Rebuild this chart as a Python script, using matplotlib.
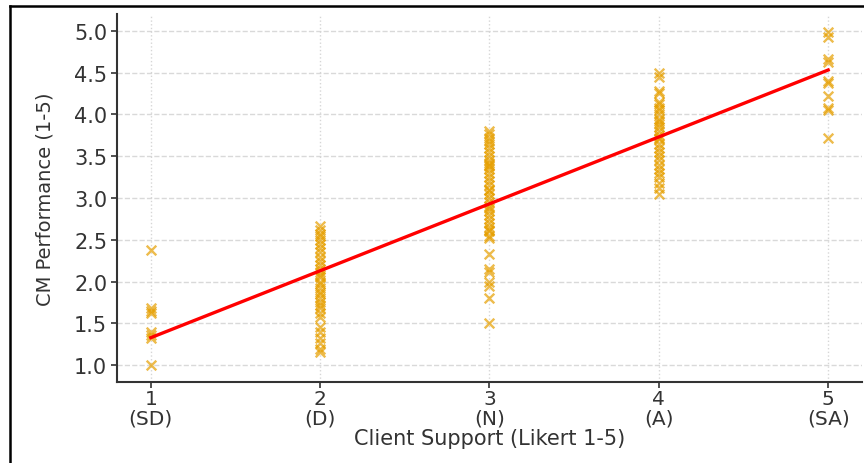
import numpy as np
import matplotlib
matplotlib.use("Agg")
import matplotlib.pyplot as plt
from matplotlib.lines import Line2D

# Likert levels and their short names
levels = [1, 2, 3, 4, 5]
level_names = ["SD", "D", "N", "A", "SA"]

# CM performance scores observed at each client-support level
perf_sd = [2.38, 1.69, 1.65, 1.62, 1.40, 1.36, 1.32, 1.00]
perf_d = [2.67, 2.62, 2.57, 2.55, 2.50, 2.45, 2.40, 2.35, 2.30, 2.25, 2.20,
          2.15, 2.12, 2.08, 2.05, 2.00, 1.97, 1.92, 1.88, 1.85, 1.80, 1.76,
          1.72, 1.68, 1.63, 1.58, 1.46, 1.40, 1.33, 1.27, 1.20, 1.16]
perf_n = [3.80, 3.76, 3.72, 3.68, 3.65, 3.60, 3.55, 3.50, 3.45, 3.42, 3.40,
          3.38, 3.35, 3.30, 3.25, 3.20, 3.15, 3.10, 3.10, 3.05, 3.00, 2.95,
          2.90, 2.88, 2.85, 2.80, 2.75, 2.70, 2.65, 2.62, 2.60, 2.55, 2.52,
          2.33, 2.15, 2.11, 1.99, 1.95, 1.81, 1.51]
perf_a = [4.50, 4.45, 4.28, 4.25, 4.15, 4.12, 4.08, 4.05, 4.00, 3.95, 3.92,
          3.88, 3.85, 3.80, 3.75, 3.72, 3.70, 3.65, 3.60, 3.55, 3.50, 3.45,
          3.40, 3.35, 3.30, 3.25, 3.18, 3.12, 3.05]
perf_sa = [4.98, 4.92, 4.66, 4.62, 4.40, 4.37, 4.22, 4.08, 4.05, 3.72]

# linear trend (slope, intercept)
fit_slope = 0.80
fit_intercept = 0.53

groups = [perf_sd, perf_d, perf_n, perf_a, perf_sa]
xs = np.concatenate([[lv] * len(g) for lv, g in zip(levels, groups)])
ys = np.concatenate(groups)

fig = plt.figure(figsize=(8.64, 4.64), dpi=100)
ax = fig.add_axes([0.1354, 0.1746, 0.8623, 0.7931])

ax.scatter(xs, ys, marker="x", s=48, color="#E69F00", alpha=0.7,
           linewidths=1.7, zorder=3)

line_x = np.array([levels[0], levels[-1]])
ax.plot(line_x, fit_slope * line_x + fit_intercept, color="red", lw=2.4,
        zorder=4)

ax.set_xlim(0.8, 5.2)
ax.set_ylim(0.8, 5.2)
ax.set_xticks(levels)
ax.set_xticklabels([f"{lv}\n({nm})" for lv, nm in zip(levels, level_names)],
                   fontsize=14.5, linespacing=1.05)
ax.set_yticks(np.arange(1.0, 5.01, 0.5))
ax.set_yticklabels([f"{v:.1f}" for v in np.arange(1.0, 5.01, 0.5)],
                   fontsize=15)
ax.tick_params(colors="#333333", length=4, width=1.2)
ax.tick_params(axis="x", pad=1)
ax.tick_params(axis="y", pad=3)

ax.set_xlabel("Client Support (Likert 1-5)", fontsize=15, color="#333333",
              labelpad=0)
ax.set_ylabel("CM Performance (1-5)", fontsize=14, color="#333333",
              family=["Liberation Sans Narrow", "DejaVu Sans"], labelpad=14)

ax.grid(axis="y", linestyle="--", color="#d0d0d0", lw=1.0, alpha=0.8)
ax.grid(axis="x", linestyle=":", color="#cccccc", lw=1.0, alpha=0.8)
ax.set_axisbelow(True)

for side in ["top", "right"]:
    ax.spines[side].set_visible(False)
for side in ["left", "bottom"]:
    ax.spines[side].set_color("#333333")
    ax.spines[side].set_linewidth(1.5)

# thin frame along the top and left edges
fig.add_artist(Line2D([10 / 864, 1.0], [1 - 7 / 464, 1 - 7 / 464],
                      transform=fig.transFigure, color="black", lw=1.8))
fig.add_artist(Line2D([10 / 864, 10 / 864], [0.0, 1 - 7 / 464],
                      transform=fig.transFigure, color="black", lw=1.8))

fig.savefig("out.png", dpi=100)
